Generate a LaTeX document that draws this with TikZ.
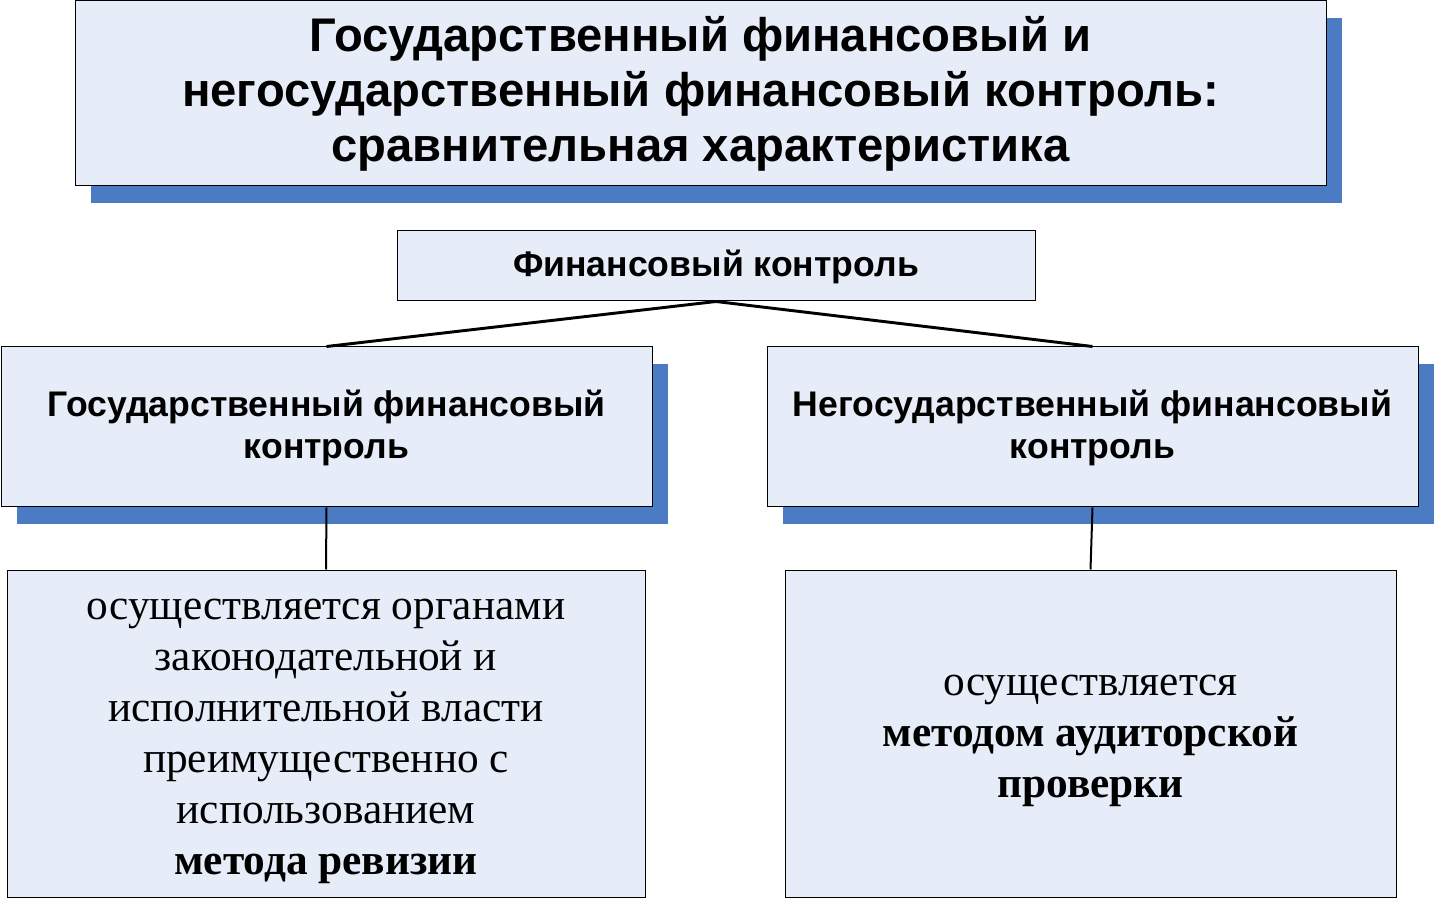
\documentclass[tikz,border=0pt]{standalone}
\usepackage{fontspec}
\setmainfont{Liberation Serif}
\newfontfamily\arialf{Liberation Sans}
\usetikzlibrary{shadows}
\definecolor{boxfill}{HTML}{E6EDF8}
\definecolor{shadowblue}{HTML}{4A7BC3}
\newcommand{\topgap}[1]{\rule{0pt}{#1}}
\begin{document}
\begin{tikzpicture}[x=0.75pt,y=-0.75pt,
  box/.style={draw=black, line width=0.75pt, fill=boxfill, inner sep=0pt, align=center},
  shadowed/.style={drop shadow={shadow xshift=12pt, shadow yshift=-12.75pt, fill=shadowblue, opacity=1}},
  titlef/.style={font=\arialf\bfseries\fontsize{35.4}{41.25}\selectfont},
  midf/.style={font=\arialf\bfseries\fontsize{26.7}{31.5}\selectfont},
  bodyf/.style={font=\fontsize{32.5}{38.25}\selectfont},
  link/.style={draw=black, line width=2.2pt},
  vlink/.style={draw=black, line width=1.5pt}]
\useasboundingbox (0,0) rectangle (1436,898);
\node[box, shadowed, titlef, minimum width=938.25pt, minimum height=138.75pt] (title) at (700.5,93.5)
  {\topgap{27pt}Государственный финансовый и\\негосударственный финансовый контроль:\\сравнительная характеристика};
\node[box, midf, minimum width=478.5pt, minimum height=52.5pt] (fc) at (716,266) {\topgap{21pt}Финансовый контроль};
\node[box, shadowed, midf, minimum width=488.25pt, minimum height=120pt] (gs) at (326.5,427)
  {\topgap{21.5pt}Государственный финансовый\\контроль};
\node[box, shadowed, midf, minimum width=488.25pt, minimum height=120pt] (ng) at (1092.5,427)
  {\topgap{21.5pt}Негосударственный финансовый\\контроль};
\node[box, bodyf, minimum width=478.5pt, minimum height=245.25pt] (gsd) at (326,733.5)
  {\topgap{26.5pt}осуществляется органами\\законодательной и\\исполнительной власти\\преимущественно с\\использованием\\\textbf{метода ревизии}};
\node[box, bodyf, minimum width=458.25pt, minimum height=245.25pt] (ngd) at (1090.5,733.5)
  {\topgap{26.5pt}осуществляется\\\textbf{методом аудиторской}\\\textbf{проверки}};
\draw[link] (fc.south) -- (gs.north);
\draw[link] (fc.south) -- (ng.north);
\draw[vlink] (gs.south) -- (gsd.north);
\draw[vlink] (ng.south) -- (ngd.north);
\end{tikzpicture}
\end{document}
